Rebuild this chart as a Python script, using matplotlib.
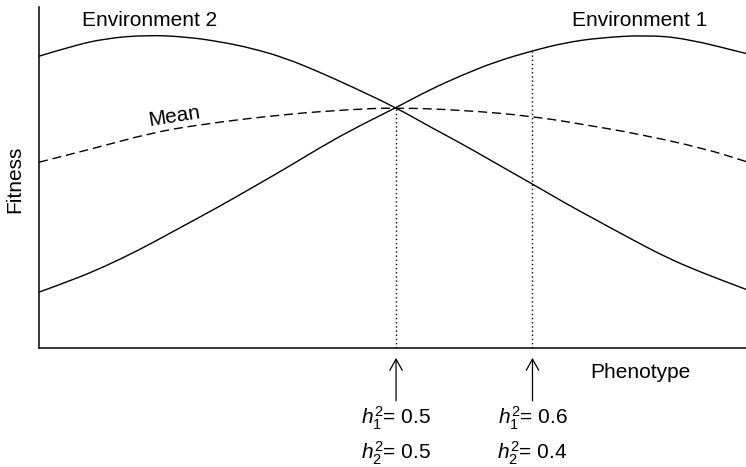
import matplotlib.pyplot as plt
from matplotlib.path import Path
from matplotlib.patches import PathPatch

plt.rcParams['font.family'] = ['Liberation Sans', 'DejaVu Sans']
plt.rcParams['mathtext.fontset'] = 'custom'
plt.rcParams['mathtext.it'] = 'Liberation Sans:italic'
plt.rcParams['mathtext.rm'] = 'Liberation Sans'

# Fitness curves (phenotype 0-100, fitness 0-100)
env2_x = [0, 4.7, 9.4, 15.1, 20.7, 25.5, 30.2, 34.9, 39.6, 44.3, 50.5,
          55.2, 59.9, 64.6, 69.8, 74.5, 79.3, 84.0, 88.7, 93.4, 100]
env2_y = [85.6, 88.6, 90.8, 91.8, 91.3, 89.9, 87.9, 85.0, 81.0, 76.6, 70.5,
          65.0, 59.8, 54.2, 48.1, 42.4, 37.0, 31.7, 26.6, 22.4, 17.2]

env1_x = [0, 4.7, 9.4, 14.1, 18.9, 25.5, 30.2, 34.9, 39.6, 44.3, 50.5,
          55.2, 59.9, 64.6, 69.8, 74.5, 79.3, 85.9, 91.5, 100]
env1_y = [16.4, 19.9, 24.0, 28.7, 34.1, 41.5, 47.1, 52.7, 58.6, 64.1, 70.5,
          75.7, 80.1, 84.0, 87.2, 89.6, 91.0, 91.8, 90.8, 86.4]

mean_x = [0, 8.6, 15.7, 22.8, 34.9, 44.3, 50.5, 59.9, 69.8, 77.5, 84.5, 94.0, 100]
mean_y = [54.5, 59.0, 63.0, 65.6, 68.6, 70.0, 70.5, 69.8, 68.0, 65.4, 62.9, 58.6, 54.7]

# Marked phenotypes: where the dotted lines stand and their heritabilities
marks_x = [50.5, 69.8]
marks_top = [70.5, 87.2]
h1_labels = ['0.5', '0.6']
h2_labels = ['0.5', '0.4']


def curve_patch(xs, ys, **kw):
    # quadratic bezier through the midpoints, using each point as control
    verts = [(xs[0], ys[0])]
    codes = [Path.MOVETO]
    for i in range(1, len(xs) - 1):
        verts += [(xs[i], ys[i]), ((xs[i] + xs[i + 1]) / 2, (ys[i] + ys[i + 1]) / 2)]
        codes += [Path.CURVE3, Path.CURVE3]
    verts.append((xs[-1], ys[-1]))
    codes.append(Path.LINETO)
    return PathPatch(Path(verts, codes), fill=False, edgecolor='black', **kw)


fig = plt.figure(figsize=(7.46, 4.67), dpi=100)
ax = fig.add_axes([0.0523, 0.2548, 0.9477, 0.730])

ax.add_patch(curve_patch(env2_x, env2_y, lw=1.0))
ax.add_patch(curve_patch(env1_x, env1_y, lw=1.0))
ax.add_patch(curve_patch(mean_x, mean_y, lw=1.0, ls=(0, (6.5, 3.5))))

for mx, top, h1, h2 in zip(marks_x, marks_top, h1_labels, h2_labels):
    ax.plot([mx, mx], [0, top], color='black', lw=1.0, ls=(0, (1, 2)))
    ax.annotate('', xy=(mx, -2.9), xytext=(mx, -15.5),
                arrowprops=dict(arrowstyle='->,head_length=0.8,head_width=0.45',
                                color='black', lw=0.9, shrinkA=0, shrinkB=0),
                annotation_clip=False)
    ax.text(mx, -20.5, r'$h_1^2$= ' + h1, ha='center', va='center', fontsize=15,
            clip_on=False)
    ax.text(mx, -30.8, r'$h_2^2$= ' + h2, ha='center', va='center', fontsize=15,
            clip_on=False)

ax.text(15.7, 96.2, 'Environment 2', ha='center', va='center', fontsize=15)
ax.text(85.0, 96.2, 'Environment 1', ha='center', va='center', fontsize=15)
ax.text(19.2, 68.0, 'Mean', ha='center', va='center', fontsize=15, rotation=9)
ax.text(85.1, -7.3, 'Phenotype', ha='center', va='center', fontsize=15,
        clip_on=False)
fig.text(0.02, 0.615, 'Fitness', rotation=90, ha='center', va='center', fontsize=15)

ax.set_xlim(0, 100)
ax.set_ylim(0, 100)
ax.set_xticks([])
ax.set_yticks([])
ax.spines['top'].set_visible(False)
ax.spines['right'].set_visible(False)
ax.spines['left'].set_linewidth(1.1)
ax.spines['bottom'].set_linewidth(1.1)

fig.savefig('out.png', dpi=100)
